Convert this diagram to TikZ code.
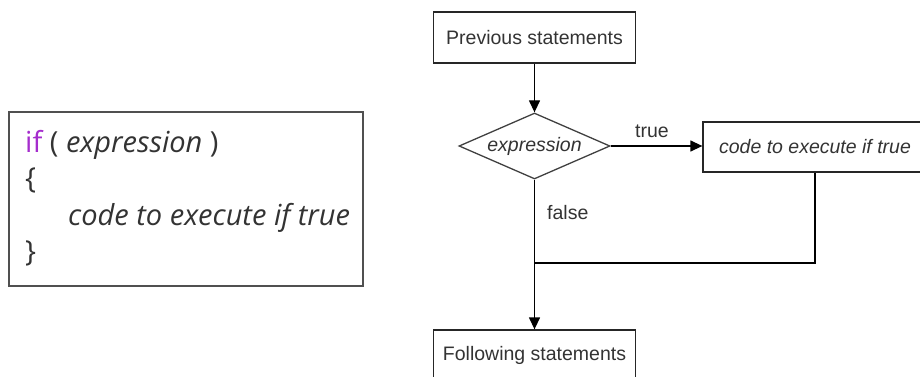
\documentclass[tikz,border=0pt]{standalone}
\usepackage{fontspec}
\setmainfont{Liberation Sans}
\newfontfamily\codefont{Open Sans}
\usetikzlibrary{shapes.geometric,arrows.meta}
\definecolor{txt}{HTML}{333333}
\definecolor{kw}{RGB}{165,45,205}
\definecolor{frame}{HTML}{505050}
\tikzset{
  flowbox/.style={draw=black!85,line width=1.3pt,rectangle,minimum width=202pt,minimum height=51pt,inner sep=0pt,text=txt,font=\fontsize{19.5}{22}\selectfont},
  decision/.style={draw=black!75,line width=1.3pt,diamond,aspect=2.29,minimum width=151pt,minimum height=66pt,inner sep=0pt,text=txt,font=\fontsize{19.5}{22}\selectfont\itshape},
  conn/.style={draw=black,line width=1.3pt},
  arr/.style={conn,-{Triangle[length=12pt,width=11pt]}},
  lbl/.style={text=txt,font=\fontsize{19.5}{22}\selectfont,inner sep=0pt},
  codeline/.style={anchor=base west,inner sep=0pt,text=txt,font=\codefont\fontsize{29}{32}\selectfont},
  codeframe/.style={draw=frame,line width=1.8pt,rectangle,minimum width=354pt,minimum height=174pt,inner sep=0pt}
}
\begin{document}
\begin{tikzpicture}[x=1pt,y=-1pt]
\useasboundingbox (0,0) rectangle (920,377);
\clip (0,0) rectangle (920,377);
% left code box
\node[codeframe] (frame) at (186,199) {};
\node[codeline] (l1) at (25,152) {\textcolor{kw}{if} ( \textit{expression} )};
\node[codeline] (l2) at (25,188.5) {\{};
\node[codeline] (l3) at (68,225) {\textit{code to execute if true}};
\node[codeline] (l4) at (25,261.5) {\}};
% flowchart
\node[flowbox] (prev) at (534.5,37.5) {Previous statements};
\node[decision] (dec) at (534.5,146) {expression};
\node[flowbox,minimum width=224pt,minimum height=50pt,font=\fontsize{19.5}{22}\selectfont\itshape] (body) at (815,147) {code to execute if true};
\node[flowbox] (follow) at (534.5,355.5) {Following statements};
\coordinate (join) at (534.5,263);
\draw[arr] (prev.south) -- (dec.north);
\draw[arr] (dec.east) -- (dec.east -| body.west);
\node[lbl] (ltrue) at (652,131) {true};
\draw[conn] (body.south) |- (join);
\draw[arr] (dec.south) -- (follow.north);
\node[lbl,anchor=west] (lfalse) at (547,213) {false};
\end{tikzpicture}
\end{document}
